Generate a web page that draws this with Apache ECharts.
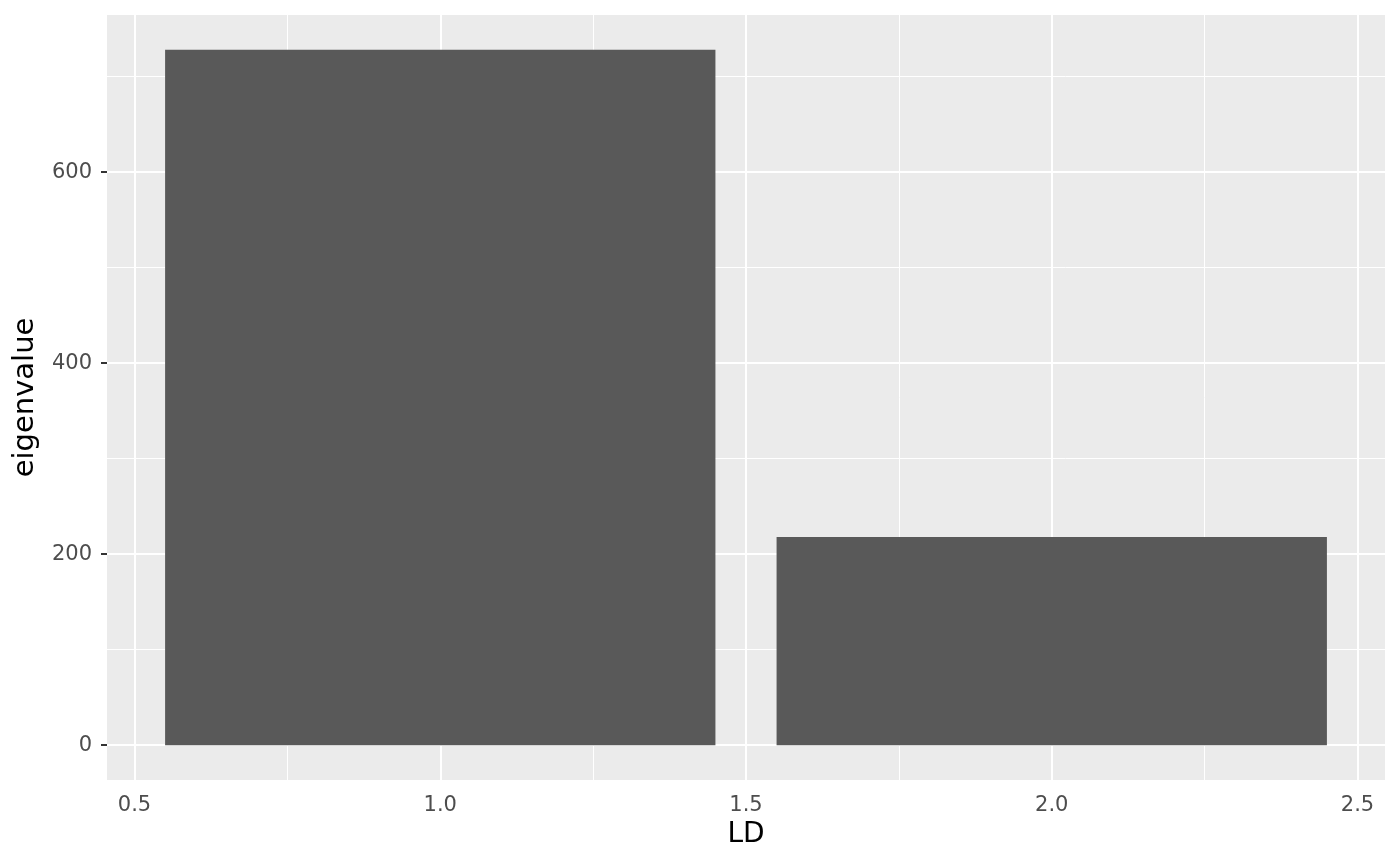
<!DOCTYPE html>
<html>
<head>
<meta charset="utf-8">
<script src="https://cdn.jsdelivr.net/npm/echarts@6/dist/echarts.min.js"></script>
<style>
  html, body { margin: 0; padding: 0; background: #fff; }
  #main { width: 1400px; height: 865px; }
</style>
</head>
<body>
<div id="main"></div>
<script>
// data
var ldValues = [1, 2];
var eigenvalues = [728, 218];
var barWidth = 0.9;

var xTicks = [0.5, 1.0, 1.5, 2.0, 2.5];
var xMinor = [0.75, 1.25, 1.75, 2.25];
var yTicks = [0, 200, 400, 600];
var yMinor = [100, 300, 500, 700];

var xRange = [0.455, 2.545];
var yRange = [-36.4, 764.4];

var font = 'DejaVu Sans';

function gridLines(vals, key, width) {
  return vals.map(function (v) {
    var d = {};
    d[key] = v;
    d.lineStyle = { color: '#ffffff', width: width, type: 'solid' };
    return d;
  });
}

var chart = echarts.init(document.getElementById('main'));

chart.setOption({
  animation: false,
  grid: {
    left: 107, right: 15, top: 15, bottom: 85,
    show: true, backgroundColor: '#ebebeb', borderWidth: 0
  },
  xAxis: {
    type: 'value',
    min: xRange[0], max: xRange[1],
    name: 'LD', nameLocation: 'middle', nameGap: 40,
    nameTextStyle: { fontFamily: font, fontSize: 28, color: '#000' },
    axisLine: { show: false },
    splitLine: { show: false },
    axisTick: { show: true, length: 6, customValues: xTicks, lineStyle: { color: '#333', width: 2 } },
    axisLabel: {
      customValues: xTicks, margin: 15,
      fontFamily: font, fontSize: 21, color: '#4d4d4d',
      formatter: function (v) { return v.toFixed(1); }
    }
  },
  yAxis: {
    type: 'value',
    min: yRange[0], max: yRange[1],
    name: 'eigenvalue', nameLocation: 'middle', nameGap: 67,
    nameTextStyle: { fontFamily: font, fontSize: 29, color: '#000' },
    axisLine: { show: false },
    splitLine: { show: false },
    axisTick: { show: true, length: 6, customValues: yTicks, lineStyle: { color: '#333', width: 2 } },
    axisLabel: {
      customValues: yTicks, margin: 15,
      fontFamily: font, fontSize: 21, color: '#4d4d4d'
    }
  },
  series: [
    {
      type: 'line',
      data: [],
      z: 1,
      silent: true,
      markLine: {
        silent: true,
        symbol: ['none', 'none'],
        label: { show: false },
        animation: false,
        data: [].concat(
          gridLines(xMinor, 'xAxis', 1),
          gridLines(yMinor, 'yAxis', 1),
          gridLines(xTicks, 'xAxis', 2),
          gridLines(yTicks, 'yAxis', 2)
        )
      }
    },
    {
      type: 'custom',
      z: 5,
      data: ldValues.map(function (x, i) { return [x, eigenvalues[i]]; }),
      renderItem: function (params, api) {
        var x = api.value(0), y = api.value(1);
        var p0 = api.coord([x - barWidth / 2, y]);
        var p1 = api.coord([x + barWidth / 2, 0]);
        return {
          type: 'rect',
          shape: { x: p0[0], y: p0[1], width: p1[0] - p0[0], height: p1[1] - p0[1] },
          style: { fill: '#595959' }
        };
      }
    }
  ]
});
</script>
</body>
</html>
